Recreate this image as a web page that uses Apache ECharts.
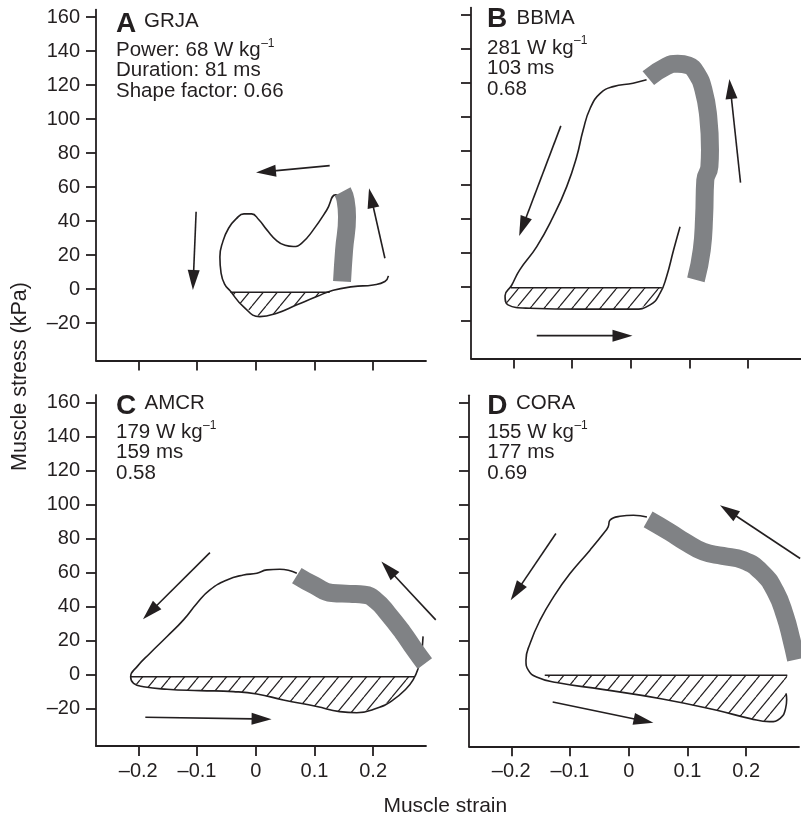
<!DOCTYPE html>
<html>
<head>
<meta charset="utf-8">
<script src="https://cdn.jsdelivr.net/npm/echarts@6/dist/echarts.min.js"></script>
<style>
  html, body { margin: 0; padding: 0; background: #fff; }
  #chart { width: 801px; height: 816px; }
</style>
</head>
<body>
<div id="chart"></div>
<script>
// ---- tick values ----
const strainTicks = [-0.2, -0.1, 0, 0.1, 0.2];
const stressTicks = [-20, 0, 20, 40, 60, 80, 100, 120, 140, 160];

// ---- panel annotations ----
const panelLetters = ['A', 'B', 'C', 'D'];
const speciesCodes = ['GRJA', 'BBMA', 'AMCR', 'CORA'];
const powerLines = ['Power: 68 W kg', '281 W kg', '179 W kg', '155 W kg'];
const durationLines = ['Duration: 81 ms', '103 ms', '159 ms', '177 ms'];
const shapeLines = ['Shape factor: 0.66', '0.68', '0.58', '0.69'];

// ---- work loops: [strain, stress kPa] ----
const loopA = [[0.146,52.5],[0.136,55.5],[0.121,46.6],[0.098,34.9],[0.078,27],[0.064,25.1],[0.05,25.8],[0.036,28.5],[0.019,34.9],[0.005,41],[-0.007,44.3],[-0.02,44.3],[-0.033,41.5],[-0.046,36],[-0.056,28],[-0.061,19],[-0.059,9.5],[-0.053,3],[-0.044,-0.8],[-0.021,-10.2],[0.007,-16.1],[0.036,-14.1],[0.07,-9.2],[0.104,-4.3],[0.132,-0.6],[0.166,1.5],[0.2,2.5],[0.22,4.5],[0.226,7.8]];
const bandA = [[0.147,4.5],[0.1505,23],[0.1555,42.7],[0.153,52.5],[0.148,57.5]];
const hatchA = [[-0.043,-1.8],[-0.021,-10.2],[0.007,-16.1],[0.036,-14.1],[0.07,-9.2],[0.104,-4.3],[0.126,-1.8]];
const arrowsA = [[0.126,72.7,0.0005,68.6],[-0.1015,45.6,-0.107,-0.4],[0.22,18.2,0.193,59.4]];

const loopB = [[0.027,122],[0.004,120],[-0.03,118],[-0.052,114],[-0.069,105.3],[-0.081,92.5],[-0.092,76.8],[-0.109,59.2],[-0.132,41.5],[-0.16,23.9],[-0.189,10.2],[-0.203,1],[-0.214,-5],[-0.209,-10.4],[-0.172,-12.4],[-0.086,-12.9],[0.004,-12.9],[0.033,-10.4],[0.05,-3.5],[0.061,6.2],[0.073,21.9],[0.084,35.6]];
const bandB = [[0.03,123],[0.061,130],[0.08,131.5],[0.098,130.5],[0.112,125.9],[0.124,116],[0.132,100.4],[0.135,80.8],[0.134,70.9],[0.127,63],[0.125,41.5],[0.121,21.9],[0.111,4.3]];
const hatchB = [[-0.204,-0.3],[-0.214,-5],[-0.209,-10.4],[-0.172,-12.4],[-0.086,-12.9],[0.004,-12.9],[0.033,-10.4],[0.05,-3.5],[0.053,-0.3]];
const arrowsB = [[-0.119,94.9,-0.19,30.2],[0.187,61.5,0.168,122.5],[-0.16,-28.5,0.003,-28.5]];

const loopC = [[0.07,59.6],[0.041,62],[0.019,61.6],[0.002,59.6],[-0.021,58.6],[-0.049,55.7],[-0.078,49.8],[-0.1,42],[-0.123,32.2],[-0.151,22.4],[-0.18,12.6],[-0.202,4.7],[-0.213,-1.2],[-0.208,-5.1],[-0.191,-7.1],[-0.151,-8.6],[-0.095,-9.4],[-0.038,-10],[0.002,-11.4],[0.047,-14.9],[0.104,-18.8],[0.143,-21.8],[0.172,-22.4],[0.206,-19.8],[0.234,-14.9],[0.257,-8],[0.268,-3.1],[0.276,3],[0.282,12],[0.285,22.5]];
const bandC = [[0.07,58.3],[0.1,52.5],[0.13,48],[0.16,47.5],[0.185,47],[0.205,43.5],[0.225,36],[0.25,25],[0.27,15],[0.288,6.5]];
const hatchC = [[-0.213,-1.2],[-0.208,-5.1],[-0.191,-7.1],[-0.151,-8.6],[-0.095,-9.4],[-0.038,-10],[0.002,-11.4],[0.047,-14.9],[0.104,-18.8],[0.143,-21.8],[0.172,-22.4],[0.206,-19.8],[0.234,-14.9],[0.257,-8],[0.268,-3.1],[0.27,-1.2]];
const arrowsC = [[-0.078,71.8,-0.192,32.6],[-0.188,-25.1,0.027,-26.2],[0.3066,32.2,0.214,66.5]];

const loopD = [[0.031,92.9],[0.008,93.9],[-0.015,93.3],[-0.032,91],[-0.035,87.1],[-0.043,83.2],[-0.066,73.4],[-0.1,59.6],[-0.128,45.9],[-0.151,32.2],[-0.168,18.5],[-0.175,8.6],[-0.171,2.8],[-0.157,-1.2],[-0.123,-4.5],[-0.045,-8.5],[0.055,-14],[0.15,-20.8],[0.207,-25.7],[0.24,-27.5],[0.258,-25.5],[0.267,-20],[0.269,-14.5],[0.268,-10.9]];
const bandD = [[0.033,91.5],[0.07,84],[0.095,78.5],[0.127,72.5],[0.16,70],[0.195,67.5],[0.226,60.5],[0.25,49],[0.266,35],[0.277,21],[0.285,9]];
const hatchD = [[-0.143,-0.2],[-0.123,-4.5],[-0.045,-8.5],[0.055,-14],[0.15,-20.8],[0.207,-25.7],[0.24,-27.5],[0.258,-25.5],[0.267,-20],[0.269,-14.5],[0.268,-10.9],[0.27,-0.2]];
const arrowsD = [[-0.124,83.2,-0.201,43.9],[-0.1295,-15.9,0.042,-28.2],[0.292,68.5,0.1555,99.8]];

// ---- styling ----
const INK = '#231f20';
const GRAY = '#808285';
const FONT = '"Liberation Sans", Arial, Helvetica, sans-serif';
const STRAIN_RANGE = [-0.272, 0.29];
const STRESS_RANGE = [-42, 164.5];

const panels = [
  { loop: loopA, band: bandA, hatch: hatchA, arrows: arrowsA },
  { loop: loopB, band: bandB, hatch: hatchB, arrows: arrowsB },
  { loop: loopC, band: bandC, hatch: hatchC, arrows: arrowsC },
  { loop: loopD, band: bandD, hatch: hatchD, arrows: arrowsD }
];

const grids = [
  { left: 96, top: 9.6, width: 330, height: 351 },
  { left: 471, top: 7.6, width: 330, height: 351 },
  { left: 96, top: 395, width: 330, height: 351 },
  { left: 469, top: 395.3, width: 330, height: 351 }
];

// diagonal hatch tile
const tile = document.createElement('canvas');
tile.width = 14; tile.height = 17;
(function () {
  const c = tile.getContext('2d');
  c.strokeStyle = INK;
  c.lineWidth = 1.2;
  [-14, 0, 14].forEach(function (x0) {
    c.beginPath();
    c.moveTo(x0, 17);
    c.lineTo(x0 + 14, 0);
    c.stroke();
  });
})();
const hatchFill = { image: tile, repeat: 'repeat' };

const measureCtx = document.createElement('canvas').getContext('2d');
function textWidth(str, size) {
  measureCtx.font = size + 'px "Liberation Sans"';
  return measureCtx.measureText(str).width;
}

function dashed(v) {
  return v < 0 ? '\u2013' + String(Math.abs(v)) : String(v);
}

function hatchRenderer(outline) {
  return function (params, api) {
    const pts = outline.map(function (p) { return api.coord(p); });
    const a = pts[0], b = pts[pts.length - 1];
    return {
      type: 'group',
      children: [
        { type: 'polygon', shape: { points: pts }, style: { fill: hatchFill, stroke: null } },
        { type: 'line', shape: { x1: a[0], y1: a[1], x2: b[0], y2: b[1] }, style: { stroke: INK, lineWidth: 1.5 } }
      ]
    };
  };
}

function arrowItem(params, api) {
  const p1 = api.coord([api.value(0), api.value(1)]);
  const p2 = api.coord([api.value(2), api.value(3)]);
  const dx = p2[0] - p1[0], dy = p2[1] - p1[1];
  const len = Math.sqrt(dx * dx + dy * dy);
  const ux = dx / len, uy = dy / len;
  const HL = 20, HW = 6;
  const bx = p2[0] - ux * HL, by = p2[1] - uy * HL;
  return {
    type: 'group',
    children: [
      { type: 'line', shape: { x1: p1[0], y1: p1[1], x2: bx + ux * 2, y2: by + uy * 2 }, style: { stroke: INK, lineWidth: 1.6 } },
      { type: 'polygon', shape: { points: [[p2[0], p2[1]], [bx - uy * HW, by + ux * HW], [bx + uy * HW, by - ux * HW]] }, style: { fill: INK, stroke: null } }
    ]
  };
}

const xAxes = grids.map(function (g, i) {
  return {
    type: 'value', gridIndex: i, min: STRAIN_RANGE[0], max: STRAIN_RANGE[1],
    splitLine: { show: false },
    axisLine: { show: true, onZero: false, lineStyle: { color: INK, width: 1.8 } },
    axisTick: { show: true, inside: false, length: 10, customValues: strainTicks, lineStyle: { color: INK, width: 1.8 } },
    axisLabel: {
      show: i >= 2, customValues: strainTicks, margin: 15,
      color: INK, fontFamily: FONT, fontSize: 20,
      formatter: dashed
    }
  };
});

const yAxes = grids.map(function (g, i) {
  return {
    type: 'value', gridIndex: i, min: STRESS_RANGE[0], max: STRESS_RANGE[1],
    splitLine: { show: false },
    axisLine: { show: true, onZero: false, lineStyle: { color: INK, width: 1.8 } },
    axisTick: { show: true, inside: false, length: 10, customValues: stressTicks, lineStyle: { color: INK, width: 1.8 } },
    axisLabel: {
      show: i % 2 === 0, customValues: stressTicks, margin: 16,
      color: INK, fontFamily: FONT, fontSize: 20, padding: [3, 0, 0, 0],
      formatter: dashed
    }
  };
});

const series = [];
panels.forEach(function (p, i) {
  series.push({
    type: 'custom', xAxisIndex: i, yAxisIndex: i, z: 1, clip: false, silent: true,
    data: [[0, 0]], renderItem: hatchRenderer(p.hatch)
  });
  series.push({
    type: 'line', xAxisIndex: i, yAxisIndex: i, z: 2, data: p.loop, smooth: 0.5,
    symbol: 'none', clip: false, silent: true,
    lineStyle: { color: INK, width: 1.6 }
  });
  series.push({
    type: 'line', xAxisIndex: i, yAxisIndex: i, z: 3, data: p.band, smooth: 0.5,
    symbol: 'none', clip: false, silent: true,
    lineStyle: { color: GRAY, width: 18, cap: 'butt', join: 'round' }
  });
  series.push({
    type: 'custom', xAxisIndex: i, yAxisIndex: i, z: 4, clip: false, silent: true,
    dimensions: ['x1', 'y1', 'x2', 'y2'], encode: { x: [0, 2], y: [1, 3] },
    data: p.arrows, renderItem: arrowItem
  });
});

// text positions (pixel layout)
const textLayout = [
  { x: 116, headY: 24.3, codeX: 144, codeY: 21.7, lineY: [50.7, 70.7, 91] },
  { x: 487, headY: 18.9, codeX: 516.5, codeY: 18.5, lineY: [48, 68, 89] },
  { x: 116, headY: 406.4, codeX: 144.5, codeY: 403.7, lineY: [432.7, 452.7, 473] },
  { x: 487.3, headY: 406.1, codeX: 516, codeY: 403.7, lineY: [432.7, 452.7, 473] }
];

function txt(x, y, s, size, weight) {
  return {
    type: 'text', x: x, y: y, silent: true,
    style: {
      text: s, fontSize: size, fontWeight: weight || 'normal', fontFamily: FONT, fill: INK,
      align: 'left', verticalAlign: 'middle', textAlign: 'left', textVerticalAlign: 'middle'
    }
  };
}

const BODY = 20.5;
const graphics = [];
textLayout.forEach(function (t, i) {
  graphics.push(txt(t.x, t.headY, panelLetters[i], 28, 'bold'));
  graphics.push(txt(t.codeX, t.codeY, speciesCodes[i], BODY));
  graphics.push(txt(t.x, t.lineY[0], powerLines[i], BODY));
  graphics.push(txt(t.x + textWidth(powerLines[i], BODY) + 0.5, t.lineY[0] - 7.1, '\u20131', 12));
  graphics.push(txt(t.x, t.lineY[1], durationLines[i], BODY));
  graphics.push(txt(t.x, t.lineY[2], shapeLines[i], BODY));
});
graphics.push({
  type: 'text', x: 20.5, y: 376.5, rotation: Math.PI / 2, silent: true,
  style: { text: 'Muscle stress (kPa)', fontSize: 21.5, fontFamily: FONT, fill: INK,
    align: 'center', verticalAlign: 'middle', textAlign: 'center', textVerticalAlign: 'middle' }
});
graphics.push({
  type: 'text', x: 445.3, y: 806, silent: true,
  style: { text: 'Muscle strain', fontSize: 21, fontFamily: FONT, fill: INK,
    align: 'center', verticalAlign: 'middle', textAlign: 'center', textVerticalAlign: 'middle' }
});

const chart = echarts.init(document.getElementById('chart'), null, { renderer: 'canvas' });
chart.setOption({
  animation: false,
  backgroundColor: '#ffffff',
  grid: grids.map(function (g) {
    return Object.assign({ containLabel: false, outerBoundsMode: 'none' }, g);
  }),
  xAxis: xAxes,
  yAxis: yAxes,
  series: series,
  graphic: graphics
});
</script>
</body>
</html>
